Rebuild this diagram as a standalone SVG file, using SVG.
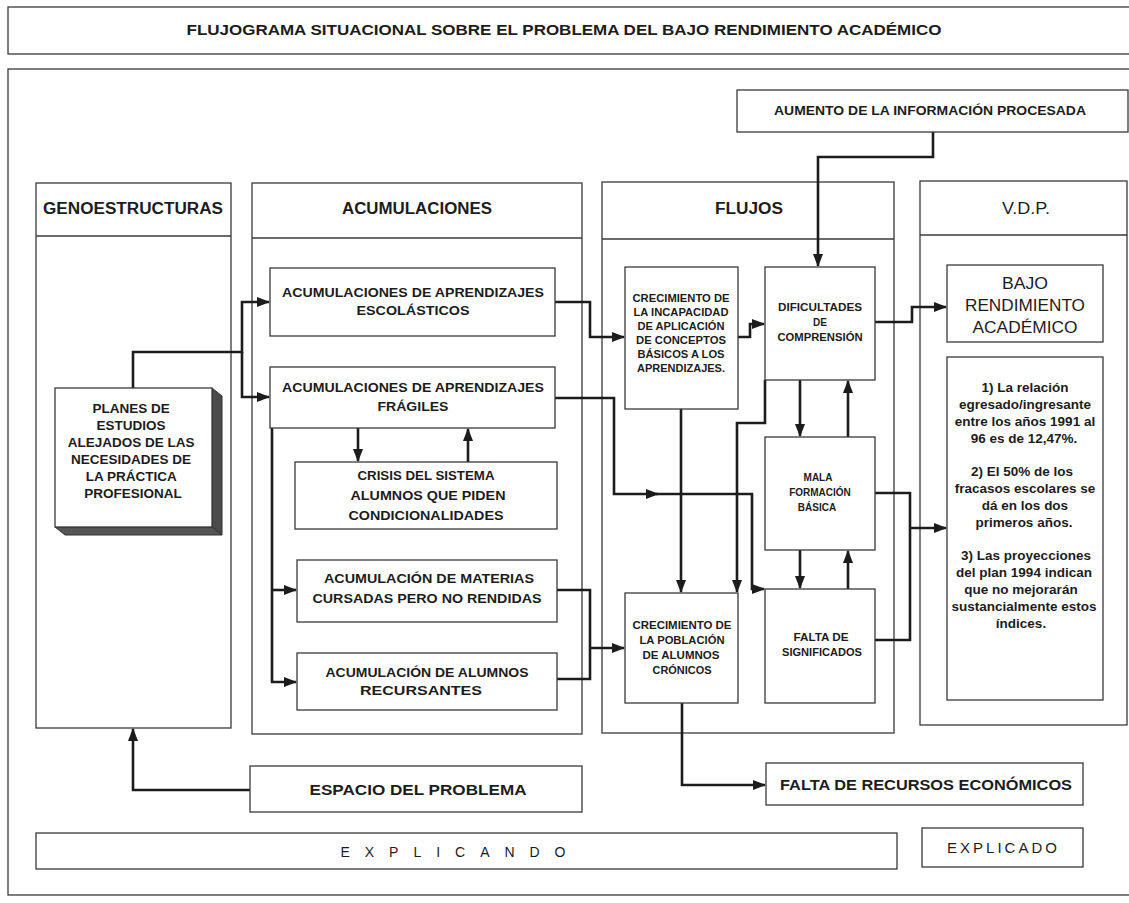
<svg xmlns="http://www.w3.org/2000/svg" width="1129" height="903" viewBox="0 0 1129 903">
<defs>
<style>
.b{fill:#fff;stroke:#3a3a3a;stroke-width:1.3}
.t{font-family:"Liberation Sans",Arial,Helvetica,sans-serif;fill:#1c1c1c;text-anchor:middle}
.w{font-weight:bold}
.c{fill:none;stroke:#1c1c1c;stroke-width:2.6;stroke-linejoin:miter}
.h{font-size:16px;font-weight:bold}
.m{font-size:13px;font-weight:bold}
.s{font-size:10px;font-weight:bold}
.v{font-size:13.5px;font-weight:bold}
</style>
<marker id="ah" markerUnits="userSpaceOnUse" markerWidth="13" markerHeight="10" refX="12" refY="5" orient="auto">
<path d="M0,0 L13,5 L0,10 z" fill="#1c1c1c"/>
</marker>
</defs>
<rect width="1129" height="903" fill="#fff"/>

<g id="frame">
<rect class="b" x="8" y="7" width="1130" height="47"/>
<text class="t w" x="564" y="35" font-size="15" textLength="755" lengthAdjust="spacingAndGlyphs">FLUJOGRAMA SITUACIONAL SOBRE EL PROBLEMA DEL BAJO RENDIMIENTO ACADÉMICO</text>
<rect class="b" x="8" y="69" width="1130" height="826"/>
</g>

<g id="col-geno">
<rect class="b" x="36" y="183" width="195" height="545"/>
<line class="b" x1="36" y1="236" x2="231" y2="236"/>
<text class="t h" x="133" y="214" textLength="180" lengthAdjust="spacingAndGlyphs">GENOESTRUCTURAS</text>
</g>
<g id="col-acum">
<rect class="b" x="252" y="183" width="330" height="551"/>
<line class="b" x1="252" y1="238" x2="582" y2="238"/>
<text class="t h" x="417" y="214" textLength="150" lengthAdjust="spacingAndGlyphs">ACUMULACIONES</text>
</g>
<g id="col-flujos">
<rect class="b" x="602" y="182" width="292" height="551"/>
<line class="b" x1="602" y1="239" x2="894" y2="239"/>
<text class="t h" x="749" y="214" textLength="68" lengthAdjust="spacingAndGlyphs">FLUJOS</text>
</g>
<g id="col-vdp">
<rect class="b" x="920" y="181" width="207" height="544"/>
<line class="b" x1="920" y1="235" x2="1127" y2="235"/>
<text class="t" x="1026" y="214" font-size="16" textLength="48" lengthAdjust="spacingAndGlyphs">V.D.P.</text>
</g>

<g id="connectors">
<path class="c" d="M933,132 V157 H818 V266" marker-end="url(#ah)"/>
<path class="c" d="M133,388 V352 H242 V302 H269" marker-end="url(#ah)"/>
<path class="c" d="M242,352 V397 H269" marker-end="url(#ah)"/>
<path class="c" d="M555,302 H590 V337 H624" marker-end="url(#ah)"/>
<path class="c" d="M555,398 H614 V494 H658" marker-end="url(#ah)"/>
<path class="c" d="M656,494 H752 V589 H764" marker-end="url(#ah)"/>
<path class="c" d="M358,428 V461" marker-end="url(#ah)"/>
<path class="c" d="M468,462 V429" marker-end="url(#ah)"/>
<path class="c" d="M272,428 V682 H296" marker-end="url(#ah)"/>
<path class="c" d="M272,590 H296" marker-end="url(#ah)"/>
<path class="c" d="M557,590 H590 V679 H557"/>
<path class="c" d="M590,648 H624" marker-end="url(#ah)"/>
<path class="c" d="M738,337 H750 V324 H764" marker-end="url(#ah)"/>
<path class="c" d="M681,409 V592" marker-end="url(#ah)"/>
<path class="c" d="M765,380 V423 H737 V592" marker-end="url(#ah)"/>
<path class="c" d="M875,322 H912 V307 H946" marker-end="url(#ah)"/>
<path class="c" d="M800,380 V436" marker-end="url(#ah)"/>
<path class="c" d="M848,437 V381" marker-end="url(#ah)"/>
<path class="c" d="M800,550 V588" marker-end="url(#ah)"/>
<path class="c" d="M848,589 V551" marker-end="url(#ah)"/>
<path class="c" d="M875,493 H910 V640 H875"/>
<path class="c" d="M910,528 H946" marker-end="url(#ah)"/>
<path class="c" d="M682,703 V785 H765" marker-end="url(#ah)"/>
<path class="c" d="M250,790 H133 V729" marker-end="url(#ah)"/>
</g>

<g id="aumento">
<rect class="b" x="737" y="90" width="391" height="42"/>
<text class="t w" x="930" y="115" font-size="13" textLength="312" lengthAdjust="spacingAndGlyphs">AUMENTO DE LA INFORMACIÓN PROCESADA</text>
</g>

<g id="planes">
<polygon points="212,388 222,396 222,535 212,527" fill="#4a4a4a" stroke="#333" stroke-width="1"/>
<polygon points="55,527 212,527 222,535 65,535" fill="#555" stroke="#333" stroke-width="1"/>
<rect class="b" x="55" y="388" width="157" height="139"/>
<text class="t w" x="133" font-size="13.5">
<tspan x="133" y="413">PLANES DE</tspan>
<tspan x="133" y="430">ESTUDIOS</tspan>
<tspan x="133" y="447">ALEJADOS DE LAS</tspan>
<tspan x="133" y="464">NECESIDADES DE</tspan>
<tspan x="133" y="481">LA PRÁCTICA</tspan>
<tspan x="133" y="498">PROFESIONAL</tspan>
</text>
</g>

<g id="escolasticos">
<rect class="b" x="270" y="268" width="285" height="68"/>
<text class="t m" x="413" y="297" textLength="262" lengthAdjust="spacingAndGlyphs">ACUMULACIONES DE APRENDIZAJES</text>
<text class="t m" x="413" y="315" textLength="113" lengthAdjust="spacingAndGlyphs">ESCOLÁSTICOS</text>
</g>
<g id="fragiles">
<rect class="b" x="270" y="367" width="285" height="61"/>
<text class="t m" x="413" y="392" textLength="262" lengthAdjust="spacingAndGlyphs">ACUMULACIONES DE APRENDIZAJES</text>
<text class="t m" x="413" y="411" textLength="71" lengthAdjust="spacingAndGlyphs">FRÁGILES</text>
</g>
<g id="crisis">
<rect class="b" x="295" y="462" width="262" height="67"/>
<text class="t m" x="426" y="480" textLength="137" lengthAdjust="spacingAndGlyphs">CRISIS DEL SISTEMA</text>
<text class="t m" x="428" y="500" textLength="155" lengthAdjust="spacingAndGlyphs">ALUMNOS QUE PIDEN</text>
<text class="t m" x="426" y="520" textLength="155" lengthAdjust="spacingAndGlyphs">CONDICIONALIDADES</text>
</g>
<g id="materias">
<rect class="b" x="297" y="560" width="260" height="62"/>
<text class="t m" x="429" y="583" textLength="210" lengthAdjust="spacingAndGlyphs">ACUMULACIÓN DE MATERIAS</text>
<text class="t m" x="427" y="603" textLength="229" lengthAdjust="spacingAndGlyphs">CURSADAS PERO NO RENDIDAS</text>
</g>
<g id="recursantes">
<rect class="b" x="297" y="653" width="260" height="57"/>
<text class="t m" x="427" y="677" textLength="203" lengthAdjust="spacingAndGlyphs">ACUMULACIÓN DE ALUMNOS</text>
<text class="t m" x="421" y="695" textLength="122" lengthAdjust="spacingAndGlyphs">RECURSANTES</text>
</g>

<g id="incapacidad">
<rect class="b" x="625" y="267" width="113" height="142"/>
<text class="t s" x="681" y="302" textLength="97" lengthAdjust="spacingAndGlyphs">CRECIMIENTO DE</text>
<text class="t s" x="681" y="316" textLength="95" lengthAdjust="spacingAndGlyphs">LA INCAPACIDAD</text>
<text class="t s" x="681" y="330" textLength="87" lengthAdjust="spacingAndGlyphs">DE APLICACIÓN</text>
<text class="t s" x="681" y="344" textLength="90" lengthAdjust="spacingAndGlyphs">DE CONCEPTOS</text>
<text class="t s" x="681" y="358" textLength="87" lengthAdjust="spacingAndGlyphs">BÁSICOS A LOS</text>
<text class="t s" x="681" y="372" textLength="88" lengthAdjust="spacingAndGlyphs">APRENDIZAJES.</text>
</g>
<g id="dificultades">
<rect class="b" x="765" y="267" width="110" height="113"/>
<text class="t s" x="820" y="311" textLength="84" lengthAdjust="spacingAndGlyphs">DIFICULTADES</text>
<text class="t s" x="820" y="326">DE</text>
<text class="t s" x="820" y="341" textLength="85" lengthAdjust="spacingAndGlyphs">COMPRENSIÓN</text>
</g>
<g id="mala">
<rect class="b" x="765" y="437" width="110" height="113"/>
<text class="t s" x="818" y="481">MALA</text>
<text class="t s" x="820" y="496" font-size="10.5">FORMACIÓN</text>
<text class="t s" x="817" y="511">BÁSICA</text>
</g>
<g id="poblacion">
<rect class="b" x="625" y="593" width="113" height="110"/>
<text class="t s" x="682" y="629" textLength="99" lengthAdjust="spacingAndGlyphs">CRECIMIENTO DE</text>
<text class="t s" x="682" y="644" textLength="85" lengthAdjust="spacingAndGlyphs">LA POBLACIÓN</text>
<text class="t s" x="681" y="659" textLength="77" lengthAdjust="spacingAndGlyphs">DE ALUMNOS</text>
<text class="t s" x="682" y="674" textLength="59" lengthAdjust="spacingAndGlyphs">CRÓNICOS</text>
</g>
<g id="falta-significados">
<rect class="b" x="765" y="589" width="110" height="114"/>
<text class="t s" x="821" y="641" textLength="55" lengthAdjust="spacingAndGlyphs">FALTA DE</text>
<text class="t s" x="822" y="656" textLength="80" lengthAdjust="spacingAndGlyphs">SIGNIFICADOS</text>
</g>

<g id="bajo-rendimiento">
<rect class="b" x="947" y="265" width="156" height="77"/>
<text class="t" x="1025" y="289" font-size="17" textLength="46" lengthAdjust="spacingAndGlyphs">BAJO</text>
<text class="t" x="1025" y="311" font-size="17" textLength="120" lengthAdjust="spacingAndGlyphs">RENDIMIENTO</text>
<text class="t" x="1025" y="333" font-size="17" textLength="105" lengthAdjust="spacingAndGlyphs">ACADÉMICO</text>
</g>
<g id="indicadores">
<rect class="b" x="947" y="357" width="156" height="343"/>
<text class="t v" x="1025" y="392">1) La relación</text>
<text class="t v" x="1025" y="409">egresado/ingresante</text>
<text class="t v" x="1025" y="426">entre los años 1991 al</text>
<text class="t v" x="1024" y="443">96 es de 12,47%.</text>
<text class="t v" x="1022" y="476">2) El 50% de los</text>
<text class="t v" x="1025" y="493">fracasos escolares se</text>
<text class="t v" x="1025" y="510">dá en los dos</text>
<text class="t v" x="1024" y="527">primeros años.</text>
<text class="t v" x="1026" y="560">3) Las proyecciones</text>
<text class="t v" x="1024" y="577">del plan 1994 indican</text>
<text class="t v" x="1021" y="594">que no mejorarán</text>
<text class="t v" x="1024" y="611">sustancialmente estos</text>
<text class="t v" x="1021" y="628">índices.</text>
</g>

<g id="espacio">
<rect class="b" x="250" y="766" width="332" height="46"/>
<text class="t w" x="418" y="795" font-size="14" textLength="217" lengthAdjust="spacingAndGlyphs">ESPACIO DEL PROBLEMA</text>
</g>
<g id="recursos">
<rect class="b" x="766" y="763" width="317" height="42"/>
<text class="t w" x="926" y="790" font-size="15" textLength="292" lengthAdjust="spacingAndGlyphs">FALTA DE RECURSOS ECONÓMICOS</text>
</g>
<g id="explicando">
<rect class="b" x="36" y="833" width="861" height="36"/>
<text class="t" x="453" y="857" font-size="14" textLength="225" lengthAdjust="spacing">EXPLICANDO</text>
</g>
<g id="explicado">
<rect class="b" x="922" y="828" width="161" height="39"/>
<text class="t" x="1002" y="853" font-size="15" textLength="110" lengthAdjust="spacing">EXPLICADO</text>
</g>
</svg>
